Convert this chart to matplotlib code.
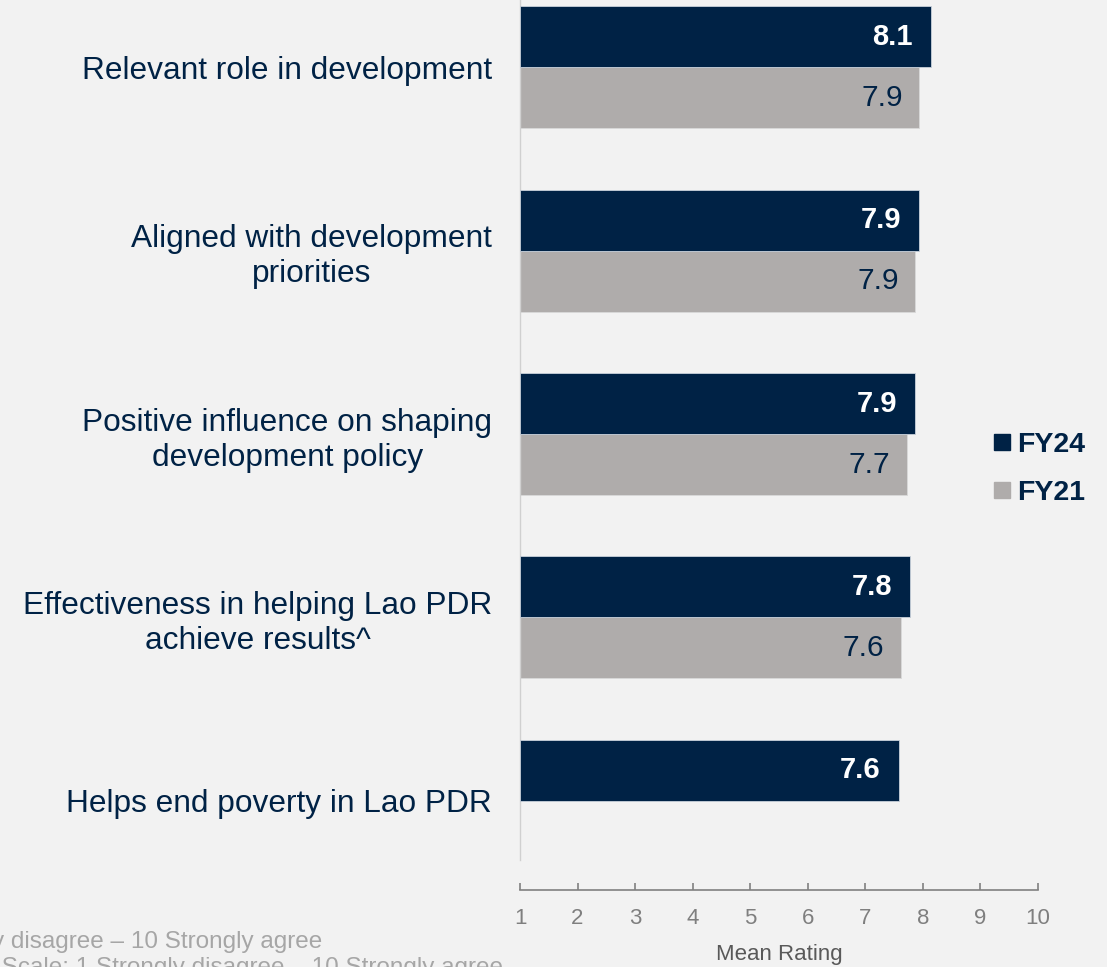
import matplotlib
matplotlib.use("Agg")
import matplotlib.pyplot as plt
from matplotlib.lines import Line2D
import numpy as np

plt.rcParams['font.family'] = ['Liberation Sans', 'DejaVu Sans']

categories = [
    "Relevant role in development",
    "Aligned with development\npriorities",
    "Positive influence on shaping\ndevelopment policy",
    "Effectiveness in helping Lao PDR\nachieve results^",
    "Helps end poverty in Lao PDR",
]
fy24 = [8.14, 7.94, 7.87, 7.78, 7.58]
fy21 = [7.94, 7.87, 7.72, 7.62, None]
series_names = ["FY24", "FY21"]
x_ticks = [1, 2, 3, 4, 5, 6, 7, 8, 9, 10]
x_label = "Mean Rating"
footnotes = [
    "Scale: 1 Strongly disagree \u2013 10 Strongly agree",
    "Lao PDR. Scale: 1 Strongly disagree \u2013 10 Strongly agree",
]

NAVY = "#002245"
GREY = "#AFACAB"
BG = "#F2F2F2"

W, H = 1107, 967
fig = plt.figure(figsize=(W / 100, H / 100), dpi=100, facecolor=BG)

# axes: x 520..1038 px, y 0..890 px
ax = fig.add_axes([520 / W, (H - 890) / H, 518 / W, 890 / H], facecolor=BG)

pitch = 183.3
c0 = 67.5
bar_h = 61 / pitch
y = np.arange(len(categories))

base = 1
for i, (v24, v21) in enumerate(zip(fy24, fy21)):
    ax.barh(y[i] - bar_h / 2, v24 - base, left=base, height=bar_h, color=NAVY,
            edgecolor="#C9D1DB", linewidth=0.6, zorder=3)
    ax.annotate(f"{v24:.1f}", (v24, y[i] - bar_h / 2), xytext=(-13, 0),
                textcoords="offset points", ha="right", va="center",
                color="white", fontsize=21, fontweight="bold", zorder=4)
    if v21 is not None:
        ax.barh(y[i] + bar_h / 2, v21 - base, left=base, height=bar_h, color=GREY,
                edgecolor="#D9D9D9", linewidth=0.6, zorder=2)
        ax.annotate(f"{v21:.1f}", (v21, y[i] + bar_h / 2), xytext=(-12, 0),
                    textcoords="offset points", ha="right", va="center",
                    color=NAVY, fontsize=21.5, zorder=4)

ax.set_xlim(1, 10)
top = -c0 / pitch
bottom = (890 - c0) / pitch
ax.set_ylim(bottom, top)

ax.set_yticks(y)
ax.set_yticklabels(categories, fontsize=22.8, color=NAVY, multialignment="center",
                   linespacing=1.22)
ax.tick_params(axis="y", length=0, pad=20)

ax.set_xticks(x_ticks)
ax.set_xticklabels([str(t) for t in x_ticks], fontsize=16, color="#7F7F7F")
ax.tick_params(axis="x", direction="in", length=5, width=1.2, color="#808080", pad=13)
ax.set_xlabel(x_label, fontsize=16, color="#595959", labelpad=11)

for s in ["top", "right"]:
    ax.spines[s].set_visible(False)
ax.spines["bottom"].set_color("#808080")
ax.spines["bottom"].set_linewidth(1.2)
ax.spines["left"].set_color("#D0D0D0")
ax.spines["left"].set_linewidth(1.0)
ax.spines["left"].set_bounds((860 - c0) / pitch, top)

handles = [
    Line2D([], [], marker="s", ls="", color=NAVY, markersize=12),
    Line2D([], [], marker="s", ls="", color=GREY, markersize=12),
]
leg = fig.legend(handles, series_names, loc="center left",
                 bbox_to_anchor=(962 / W, 1 - 469 / H), frameon=False,
                 handletextpad=0.05, handlelength=1.0, labelspacing=0.76,
                 prop={"weight": "bold", "size": 20.5})
for t in leg.get_texts():
    t.set_color(NAVY)

fig.text(322 / W, 1 - 942 / H, footnotes[0], ha="right", va="center",
         fontsize=17.5, color="#A6A6A6")
fig.text(503 / W, 1 - 968 / H, footnotes[1], ha="right", va="center",
         fontsize=17.5, color="#A6A6A6")

fig.savefig("out.png", dpi=100, facecolor=BG)
